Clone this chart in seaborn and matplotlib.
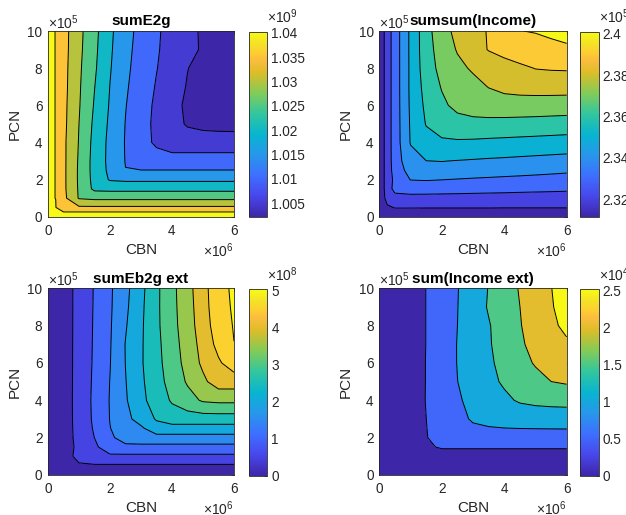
import numpy as np
import matplotlib
matplotlib.use("Agg")
import matplotlib.pyplot as plt
import seaborn as sns
from matplotlib.colors import Normalize, LinearSegmentedColormap
from matplotlib.cm import ScalarMappable
from matplotlib.ticker import FuncFormatter

# ---------------- data ----------------
CBN = np.array([0, 0.25, 0.5, 1, 1.5, 2, 2.5, 3, 3.5, 4, 4.5, 5, 5.5, 6]) * 1e6
PCN = np.array([0, 0.25, 0.5, 1, 1.5, 2, 2.5, 3, 4, 5, 6, 7, 8, 9, 10]) * 1e5

# sumE2g (x 1e9), rows follow PCN, columns follow CBN
SUM_E2G = [
    [1.0402] * 14,
    [1.0402] + [1.0401] * 13,
    [1.0402, 1.0401, 1.036] + [1.03574] * 11,
    [1.0402, 1.03998, 1.03635, 1.0296] + [1.02889] * 10,
    [1.0402, 1.03998, 1.03603, 1.02944, 1.02389] + [1.02361] * 9,
    [1.0402, 1.03998, 1.03603, 1.02929, 1.02346, 1.01955] + [1.01911] * 8,
    [1.0402, 1.03998, 1.03603, 1.02929, 1.02325, 1.01892] + [1.01508] * 8,
    [1.0402, 1.03998, 1.03603, 1.02943, 1.02321, 1.01873, 1.01483] + [1.01212] * 7,
    [1.0402, 1.03998, 1.036, 1.02973, 1.0235, 1.01875, 1.01471, 1.01184, 1.00917] + [1.00738] * 5,
    [1.0402, 1.03998, 1.03625, 1.03, 1.024, 1.01914, 1.01487, 1.01171, 1.00898, 1.00677, 1.0045, 1.0037, 1.0034, 1.00328],
    [1.0402, 1.03998, 1.03635, 1.03035, 1.02459, 1.01956, 1.01518, 1.01207, 1.00914, 1.00645, 1.0042, 1.0034, 1.0031, 1.0029],
    [1.0402, 1.03998, 1.03654, 1.03058, 1.02511, 1.01991, 1.0156, 1.0125, 1.00965, 1.00712, 1.0047, 1.0035, 1.0029, 1.0026],
    [1.0402, 1.03998, 1.03663, 1.0308, 1.0257, 1.02033, 1.01602, 1.01291, 1.01016, 1.00763, 1.0051, 1.0037, 1.0028, 1.0024],
    [1.0402, 1.03998, 1.03679, 1.03111, 1.02608, 1.02067, 1.01639, 1.01319, 1.01044, 1.00828, 1.00623, 1.0045, 1.0030, 1.0023],
    [1.0402, 1.03998, 1.03686, 1.0313, 1.02642, 1.02093, 1.01677, 1.01347, 1.01063, 1.00836, 1.00626, 1.0044, 1.0029, 1.00226],
]

# sumsum(Income) (x 1e5)
SUM_INCOME = [
    [2.3114] * 14,
    [2.3114, 2.3165] + [2.317] * 12,
    [2.3114, 2.3185, 2.3205, 2.3205, 2.3204, 2.3204, 2.3204, 2.3204, 2.3204, 2.3203, 2.3203, 2.3203, 2.3203, 2.3203],
    [2.3114, 2.3235, 2.3265, 2.3268, 2.3268, 2.3267, 2.3266, 2.3265, 2.3264, 2.3263, 2.3262, 2.3261, 2.3261, 2.326],
    [2.3114, 2.325, 2.333, 2.3345, 2.3343, 2.334, 2.3337, 2.3333, 2.333, 2.3327, 2.3323, 2.332, 2.3317, 2.3314],
    [2.3114, 2.325, 2.3322, 2.3403, 2.3407, 2.3402, 2.3396, 2.339, 2.3385, 2.338, 2.3376, 2.3372, 2.3368, 2.3365],
    [2.3114, 2.325, 2.3337, 2.344, 2.3465, 2.3468, 2.3462, 2.3455, 2.345, 2.3443, 2.3436, 2.3429, 2.3422, 2.3415],
    [2.3114, 2.325, 2.3345, 2.347, 2.3499, 2.3502, 2.3497, 2.3492, 2.3487, 2.3483, 2.3478, 2.3473, 2.3468, 2.3463],
    [2.3114, 2.325, 2.3348, 2.3505, 2.3565, 2.3585, 2.3588, 2.3585, 2.358, 2.3576, 2.3572, 2.3568, 2.3564, 2.356],
    [2.3114, 2.325, 2.3348, 2.351, 2.3605, 2.3645, 2.3665, 2.3672, 2.3672, 2.367, 2.3667, 2.3664, 2.366, 2.3656],
    [2.3114, 2.325, 2.3348, 2.3515, 2.3621, 2.3682, 2.3725, 2.3745, 2.3755, 2.3758, 2.3758, 2.3757, 2.3755, 2.3753],
    [2.3114, 2.325, 2.3348, 2.3518, 2.3637, 2.3706, 2.3739, 2.3771, 2.3803, 2.3825, 2.3835, 2.3839, 2.384, 2.3839],
    [2.3114, 2.325, 2.3348, 2.3518, 2.3653, 2.3729, 2.3777, 2.3812, 2.3834, 2.3857, 2.388, 2.3903, 2.3908, 2.391],
    [2.3114, 2.325, 2.3348, 2.3519, 2.366, 2.3744, 2.3807, 2.3856, 2.3905, 2.3935, 2.396, 2.3978, 2.399, 2.3995],
    [2.3114, 2.325, 2.3348, 2.3519, 2.3662, 2.3765, 2.3825, 2.3866, 2.3907, 2.395, 2.3999, 2.4003, 2.4007, 2.401],
]

# sumEb2g ext (x 1e8)
SUM_EB2G_EXT = [
    [0.0] * 14,
    [0, 0.08] + [0.2] * 12,
    [0, 0.08, 0.27] + [0.435] * 11,
    [0, 0.08, 0.27, 0.65] + [0.898] * 10,
    [0, 0.08, 0.27, 0.61, 0.89, 1.33] + [1.355] * 8,
    [0, 0.08, 0.27, 0.643, 1.005, 1.385, 1.77] + [1.827] * 7,
    [0, 0.08, 0.27, 0.656, 1.054, 1.49, 1.708, 1.917] + [2.302] * 6,
    [0, 0.08, 0.27, 0.667, 1.086, 1.514, 1.861, 2.2, 2.545] + [2.759] * 5,
    [0, 0.08, 0.27, 0.672, 1.102, 1.525, 1.949, 2.373, 2.733, 3.053, 3.316, 3.56, 3.613, 3.613],
    [0, 0.08, 0.27, 0.667, 1.085, 1.509, 1.981, 2.414, 2.808, 3.187, 3.555, 3.897, 4.25, 4.25],
    [0, 0.08, 0.27, 0.661, 1.067, 1.483, 2.009, 2.447, 2.855, 3.25, 3.67, 4.1, 4.433, 4.75],
    [0, 0.08, 0.27, 0.659, 1.057, 1.467, 2.017, 2.441, 2.877, 3.29, 3.731, 4.172, 4.65, 4.995],
    [0, 0.08, 0.27, 0.656, 1.048, 1.452, 1.958, 2.426, 2.904, 3.333, 3.788, 4.241, 4.78, 5.025],
    [0, 0.08, 0.27, 0.654, 1.04, 1.437, 1.904, 2.4, 2.908, 3.353, 3.817, 4.272, 4.87, 5.04],
    [0, 0.08, 0.27, 0.652, 1.032, 1.429, 1.866, 2.365, 2.902, 3.366, 3.843, 4.298, 4.9, 5.05],
]

# sum(Income ext) (x 1e4)
SUM_INCOME_EXT = [
    [0.0] * 14,
    [0, 0.06] + [0.08] * 12,
    [0, 0.06, 0.13] + [0.17] * 11,
    [0, 0.06, 0.13, 0.3] + [0.35] * 10,
    [0, 0.06, 0.13, 0.3, 0.45] + [0.534] * 9,
    [0, 0.06, 0.13, 0.3, 0.48, 0.667] + [0.777] * 8,
    [0, 0.06, 0.13, 0.3, 0.49, 0.68, 0.83, 0.93, 0.97, 0.993, 1.004, 1.01, 1.014, 1.017],
    [0, 0.06, 0.13, 0.3, 0.498, 0.685, 0.87, 1.05, 1.13, 1.18, 1.21, 1.225, 1.232, 1.235],
    [0, 0.06, 0.13, 0.3, 0.513, 0.73, 0.948, 1.113, 1.262, 1.411, 1.55, 1.61, 1.64, 1.656],
    [0, 0.06, 0.13, 0.3, 0.51, 0.752, 0.995, 1.19, 1.384, 1.559, 1.706, 1.853, 1.998, 2.056],
    [0, 0.06, 0.13, 0.3, 0.51, 0.763, 1.012, 1.219, 1.426, 1.633, 1.842, 2.04, 2.2, 2.3],
    [0, 0.06, 0.13, 0.3, 0.505, 0.76, 1.013, 1.235, 1.456, 1.689, 1.925, 2.155, 2.38, 2.495],
    [0, 0.06, 0.13, 0.3, 0.505, 0.752, 0.999, 1.234, 1.467, 1.719, 1.974, 2.203, 2.493, 2.508],
    [0, 0.06, 0.13, 0.3, 0.505, 0.748, 0.99, 1.267, 1.537, 1.769, 1.998, 2.238, 2.497, 2.515],
    [0, 0.06, 0.13, 0.3, 0.505, 0.743, 0.981, 1.247, 1.516, 1.776, 2.033, 2.266, 2.499, 2.52],
]

TITLES = ["sumE2g", "sumsum(Income)", "sumEb2g ext", "sum(Income ext)"]
SCALES = [1e9, 1e5, 1e8, 1e4]
LEVELS = [
    [1.005, 1.01, 1.015, 1.02, 1.025, 1.03, 1.035, 1.04],
    [2.32, 2.33, 2.34, 2.35, 2.36, 2.37, 2.38, 2.39, 2.40],
    [0.5, 1.0, 1.5, 2.0, 2.5, 3.0, 3.5, 4.0, 4.5, 5.0],
    [0.5, 1.0, 1.5, 2.0, 2.5],
]
CB_TICKS = [
    [1.005, 1.01, 1.015, 1.02, 1.025, 1.03, 1.035, 1.04],
    [2.32, 2.34, 2.36, 2.38, 2.40],
    [0, 1, 2, 3, 4, 5],
    [0, 0.5, 1, 1.5, 2, 2.5],
]
CB_EXP = [9, 5, 8, 4]
X_TICKS = [0, 2e6, 4e6, 6e6]
Y_TICKS = [0, 2e5, 4e5, 6e5, 8e5, 10e5]

# ---------------- style ----------------
sns.set_style("white")
plt.rcParams['font.family'] = ['Liberation Sans', 'DejaVu Sans']
plt.rcParams['mathtext.fontset'] = 'custom'
plt.rcParams['mathtext.rm'] = 'Liberation Sans'
plt.rcParams['mathtext.it'] = 'Liberation Sans:italic'
plt.rcParams['mathtext.bf'] = 'Liberation Sans:bold'

PARULA = [
    (0.000, (0.2422, 0.1504, 0.6603)),
    (0.111, (0.2803, 0.2782, 0.9221)),
    (0.222, (0.2440, 0.4358, 0.9988)),
    (0.333, (0.1540, 0.5902, 0.9218)),
    (0.444, (0.0297, 0.7082, 0.8163)),
    (0.556, (0.1938, 0.7758, 0.6251)),
    (0.667, (0.5044, 0.7993, 0.3480)),
    (0.778, (0.8634, 0.7406, 0.1596)),
    (0.850, (0.9900, 0.7400, 0.2400)),
    (0.889, (0.9892, 0.8136, 0.1885)),
    (0.944, (0.9550, 0.8950, 0.1450)),
    (1.000, (0.9769, 0.9839, 0.0805)),
]
cmap = LinearSegmentedColormap.from_list("parula", PARULA, N=256)

GRAY = '#262626'
W, H = 626, 515


def px_box(x0, y0, x1, y1):
    return [x0 / W, (H - y1) / H, (x1 - x0) / W, (y1 - y0) / H]


AX_BOXES = [(48, 31, 234, 216.7), (379.3, 31, 566.7, 216.7),
            (48, 288.3, 234, 475), (379.3, 288.3, 566.7, 475)]
CB_BOXES = [(248.7, 31.7, 267.3, 216.7), (580, 31.7, 598.7, 217.0),
            (248.7, 289, 267.3, 475.7), (580, 289, 598.7, 475.7)]

fig = plt.figure(figsize=(6.26, 5.15), dpi=100)
fig.patch.set_facecolor('white')

DATA = [SUM_E2G, SUM_INCOME, SUM_EB2G_EXT, SUM_INCOME_EXT]

for i in range(4):
    scale = SCALES[i]
    Z = np.array(DATA[i]) * scale
    lev = np.array(LEVELS[i]) * scale
    vmin, vmax = Z.min(), Z.max()
    span = vmax - vmin
    norm = Normalize(vmin, vmax)
    bounds = np.concatenate([[vmin - span * 1e-6], lev, [vmax + span * 1e-6]])
    lower = np.concatenate([[vmin], lev])
    band_colors = [cmap(norm(v)) for v in lower]

    ax = fig.add_axes(px_box(*AX_BOXES[i]))
    cax = fig.add_axes(px_box(*CB_BOXES[i]))

    ax.contourf(CBN, PCN, Z, levels=bounds, colors=band_colors)
    ax.contour(CBN, PCN, Z, levels=lev, colors='k', linewidths=0.7)

    ax.set_xlim(0, 6e6)
    ax.set_ylim(0, 1e6)
    ax.set_xticks(X_TICKS)
    ax.set_yticks(Y_TICKS)
    ax.xaxis.set_major_formatter(FuncFormatter(lambda v, _: f"{v / 1e6:g}"))
    ax.yaxis.set_major_formatter(FuncFormatter(lambda v, _: f"{v / 1e5:g}"))
    ax.tick_params(direction='in', top=True, right=True, length=2.5, width=0.5,
                   labelsize=9.8, colors=GRAY)
    ax.tick_params(axis='x', pad=5)
    ax.tick_params(axis='y', pad=4)
    for sp in ax.spines.values():
        sp.set_color(GRAY)
        sp.set_linewidth(0.6)
    ax.set_xlabel('CBN', fontsize=11, color=GRAY, labelpad=4)
    ax.set_ylabel('PCN', fontsize=11, color=GRAY, labelpad=4)
    ax.set_title(TITLES[i], fontsize=11, fontweight='bold', pad=4, color='black')
    ax.text(0.0, 1.011, r'$\times10^{5}$', transform=ax.transAxes, ha='left',
            va='baseline', fontsize=10, color=GRAY)
    ax.text(1.0, -0.2154, r'$\times10^{6}$', transform=ax.transAxes, ha='right',
            va='baseline', fontsize=10, color=GRAY)

    sm = ScalarMappable(norm=norm, cmap=cmap)
    cb = fig.colorbar(sm, cax=cax)
    cb.set_ticks(np.array(CB_TICKS[i]) * scale)
    cb.ax.yaxis.set_major_formatter(FuncFormatter(lambda v, _, s=scale: f"{v / s:g}"))
    cax.tick_params(direction='in', length=2.5, width=0.5, labelsize=9.8, pad=3, colors=GRAY)
    cb.outline.set_edgecolor(GRAY)
    cb.outline.set_linewidth(0.6)
    cax.text(1.0, 1.045, r'$\times10^{%d}$' % CB_EXP[i], transform=cax.transAxes,
             ha='left', va='baseline', fontsize=10, color=GRAY)

fig.savefig('out.png', dpi=100)
